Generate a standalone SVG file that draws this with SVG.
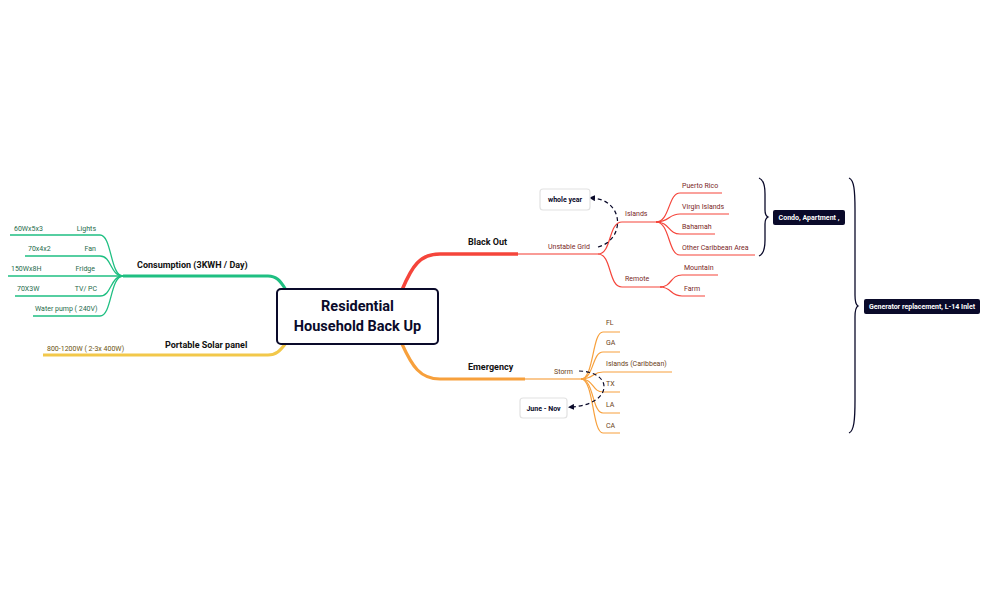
<svg xmlns="http://www.w3.org/2000/svg" width="989" height="612" viewBox="0 0 989 612">
<style>
text{font-family:Roboto,"Liberation Sans",sans-serif}
.s{font-size:7px}
.m{font-size:9px;font-weight:bold;fill:#111}
.g{fill:#1e6b4a}.y{fill:#6b5410}.r{fill:#7a1f1f}.o{fill:#6b4218}
.gl{stroke:#1fbf82;fill:none}.yl{stroke:#f2c84a;fill:none}.rl{stroke:#f5453b;fill:none}.rl2{stroke:#f77a73;fill:none}.ol{stroke:#f7a03c;fill:none}.ol2{stroke:#f9b66b;fill:none}
.dk{fill:#0a0a2a}.wt{fill:#fff;font-size:7px;font-weight:bold}
.note{fill:#fff;stroke:#e2e2e2;stroke-width:1.2}
.br{stroke:#0a0a2a;fill:none;stroke-width:1.3}
</style>
<defs><marker id="ah" viewBox="0 0 10 10" refX="5" refY="5" markerWidth="5" markerHeight="5" orient="auto"><path d="M0 0L10 5L0 10z" fill="#0a0a2a"/></marker></defs>
<rect width="989" height="612" fill="#fff"/>
<g id="connectors">
<path class="gl" stroke-width="3" d="M286 290C280 280 276 276 268 276H123"/>
<g class="gl" stroke-width="1.3">
<path d="M123 276C110 276 112 235 100 235H10"/>
<path d="M123 276C110 276 112 256 100 256H25"/>
<path d="M123 276H8"/>
<path d="M123 276C110 276 112 296 100 296H15"/>
<path d="M123 276C110 276 112 316 100 316H33"/>
</g>
<path class="yl" stroke-width="3" d="M286 343C280 351 276 355 268 355H43"/>
<path class="rl" stroke-width="3.5" d="M402 290C412 266 420 254 440 254H518"/>
<path class="rl2" stroke-width="1.5" d="M518 254H598"/>
<g class="rl" stroke-width="1.2">
<path d="M598 254C612 254 608 222 622 222H660"/>
<path d="M598 254C612 254 608 287 622 287H662"/>
<path d="M656 222C670 222 668 193 680 193H722"/>
<path d="M656 222C670 222 668 214 680 214H729"/>
<path d="M656 222C670 222 668 234 680 234H715"/>
<path d="M656 222C670 222 668 255 680 255H755"/>
<path d="M660 287C672 287 670 275 682 275H718"/>
<path d="M660 287C672 287 670 296 682 296H705"/>
</g>
<path class="ol" stroke-width="3.2" d="M402 344C412 366 420 379 440 379H525"/>
<path class="ol2" stroke-width="1.5" d="M525 379H583"/>
<g class="ol" stroke-width="1.2">
<path d="M581 379C594 379 592 332 603 332H620"/>
<path d="M581 379C594 379 592 352 603 352H620"/>
<path d="M581 379C594 379 592 372 603 372H672"/>
<path d="M581 379C594 379 592 392 603 392H620"/>
<path d="M581 379C594 379 592 413 603 413H620"/>
<path d="M581 379C594 379 592 433 603 433H620"/>
</g>
<path d="M598 247C625 240 625 200 592 198" fill="none" stroke="#0a0a2a" stroke-width="1.2" stroke-dasharray="4 3" marker-end="url(#ah)"/>
<path d="M579 371C615 372 612 405 571 407" fill="none" stroke="#0a0a2a" stroke-width="1.2" stroke-dasharray="4 3" marker-end="url(#ah)"/>
<path class="br" d="M759 178C764 180 765 186 765 194V210C765 214 766 216 768 217C766 218 765 220 765 224V240C765 248 764 254 759 256"/>
<path class="br" d="M849 178C854 180 855 190 855 210V295C855 302 856 305 858 306C856 307 855 310 855 317V400C855 420 854 431 849 433"/>
</g>
<g id="center"><rect x="277" y="289" width="161" height="55" rx="4" fill="#fff" stroke="#0a0a2a" stroke-width="2"/>
<text x="357.5" y="311" text-anchor="middle" font-size="14.5" font-weight="bold" fill="#0a0a2a">Residential</text>
<text x="357.5" y="331" text-anchor="middle" font-size="14.5" font-weight="bold" fill="#0a0a2a">Household Back Up</text></g>
<g id="consumption"><text class="m" x="137" y="268">Consumption (3KWH / Day)</text></g>
<g id="lights"><text class="s g" x="14" y="231">60Wx5x3</text><text class="s g" x="96" y="231" text-anchor="end">Lights</text></g>
<g id="fan"><text class="s g" x="28" y="251">70x4x2</text><text class="s g" x="96" y="251" text-anchor="end">Fan</text></g>
<g id="fridge"><text class="s g" x="11" y="271">150Wx8H</text><text class="s g" x="95" y="271" text-anchor="end">Fridge</text></g>
<g id="tv"><text class="s g" x="17" y="291">70X3W</text><text class="s g" x="97" y="291" text-anchor="end">TV/ PC</text></g>
<g id="pump"><text class="s g" x="35" y="311">Water pump ( 240V)</text></g>
<g id="solar"><text class="m" x="165" y="348">Portable Solar panel</text><text class="s y" x="47" y="351">800-1200W ( 2-3x 400W)</text></g>
<g id="blackout"><text class="m" x="468" y="245">Black Out</text></g>
<g id="unstable"><text class="s r" x="548" y="249">Unstable Grid</text></g>
<g id="islands"><text class="s r" x="625" y="216">Islands</text></g>
<g id="pr"><text class="s r" x="682" y="188">Puerto Rico</text></g>
<g id="vi"><text class="s r" x="682" y="209">Virgin Islands</text></g>
<g id="bah"><text class="s r" x="682" y="229">Bahamah</text></g>
<g id="oca"><text class="s r" x="682" y="250">Other Caribbean Area</text></g>
<g id="remote"><text class="s r" x="625" y="281">Remote</text></g>
<g id="mountain"><text class="s r" x="684" y="270">Mountain</text></g>
<g id="farm"><text class="s r" x="684" y="291">Farm</text></g>
<g id="wholeyear"><rect class="note" x="540" y="189" width="50" height="21" rx="3"/><text x="565" y="202" text-anchor="middle" font-size="7" font-weight="bold" fill="#0a0a2a">whole year</text></g>
<g id="emergency"><text class="m" x="468" y="370">Emergency</text></g>
<g id="storm"><text class="s o" x="554" y="374">Storm</text></g>
<g id="fl"><text class="s o" x="606" y="325">FL</text></g>
<g id="ga"><text class="s o" x="606" y="345">GA</text></g>
<g id="isc"><text class="s o" x="606" y="366">Islands (Caribbean)</text></g>
<g id="tx"><text class="s o" x="606" y="386">TX</text></g>
<g id="la"><text class="s o" x="606" y="407">LA</text></g>
<g id="ca"><text class="s o" x="606" y="428">CA</text></g>
<g id="junenov"><rect class="note" x="520" y="398" width="47" height="20" rx="3"/><text x="543.5" y="410.5" text-anchor="middle" font-size="7" font-weight="bold" fill="#0a0a2a">June - Nov</text></g>
<g id="condo"><rect class="dk" x="773" y="210" width="72" height="15" rx="2"/><text class="wt" x="809" y="220" text-anchor="middle">Condo, Apartment ,</text></g>
<g id="generator"><rect class="dk" x="864" y="299" width="116" height="15" rx="2"/><text class="wt" x="922" y="309" text-anchor="middle">Generator replacement, L-14 Inlet</text></g>
</svg>
